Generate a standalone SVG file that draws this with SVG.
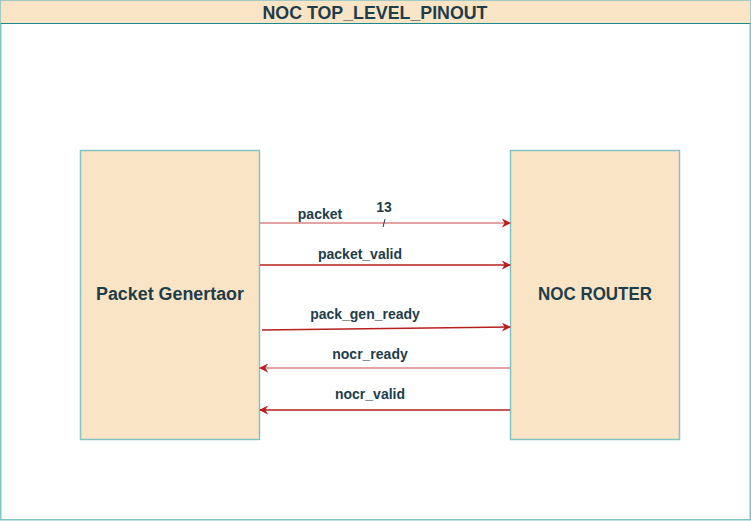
<svg xmlns="http://www.w3.org/2000/svg" width="751" height="521" viewBox="0 0 751 521">
<style>
.box{fill:#fae4c6;stroke:#82c3c3;stroke-width:1.5}
.lbl{font-family:"Liberation Sans",Arial,sans-serif;font-weight:bold;fill:#1e3d4a;text-anchor:middle}
.sig{font-size:14px}
.ln{fill:none;stroke:#b81f1f;stroke-width:1.3}
.lt{stroke:#d98585}
</style>
<defs>
<marker id="ah" viewBox="0 0 10 10" refX="9" refY="5" markerWidth="9" markerHeight="9" markerUnits="userSpaceOnUse" orient="auto">
<path d="M0,0 L10,5 L0,10 L3,5 Z" fill="#b81f1f"/>
</marker>
</defs>
<g id="frame">
<rect x="0.75" y="0.75" width="749.5" height="519" fill="#ffffff" stroke="#82c3c3" stroke-width="1.5"/>
<rect x="0.75" y="0.75" width="749.5" height="22.5" fill="#fae4c6" stroke="none"/>
<line x1="0.75" y1="23.5" x2="750.25" y2="23.5" stroke="#1a8a8a" stroke-width="1"/>
<text class="lbl" x="375" y="18.5" font-size="18" textLength="225" lengthAdjust="spacingAndGlyphs">NOC TOP_LEVEL_PINOUT</text>
</g>
<g id="packet-generator">
<rect class="box" x="80.5" y="150.5" width="179" height="289"/>
<text class="lbl" x="170" y="300" font-size="17.5" textLength="148" lengthAdjust="spacingAndGlyphs">Packet Genertaor</text>
</g>
<g id="noc-router">
<rect class="box" x="510.5" y="150.5" width="169" height="289"/>
<text class="lbl" x="595" y="300" font-size="17.5" textLength="114" lengthAdjust="spacingAndGlyphs">NOC ROUTER</text>
</g>
<g id="connectors">
<line class="ln lt" x1="260" y1="223" x2="510" y2="223" marker-end="url(#ah)"/>
<line class="ln" x1="260" y1="265" x2="510" y2="265" marker-end="url(#ah)"/>
<line class="ln" x1="262" y1="330" x2="510" y2="327" marker-end="url(#ah)"/>
<line class="ln lt" x1="510" y1="368" x2="260" y2="368" marker-end="url(#ah)"/>
<line class="ln" x1="510" y1="410" x2="260" y2="410" marker-end="url(#ah)"/>
<line x1="385" y1="219" x2="383" y2="227" stroke="#1e3d4a" stroke-width="1"/>
</g>
<g id="labels">
<text class="lbl sig" x="320" y="219">packet</text>
<text class="lbl" x="384" y="212" font-size="14">13</text>
<text class="lbl sig" x="360" y="259">packet_valid</text>
<text class="lbl sig" x="365" y="319">pack_gen_ready</text>
<text class="lbl sig" x="370" y="359">nocr_ready</text>
<text class="lbl sig" x="370" y="399">nocr_valid</text>
</g>
</svg>
